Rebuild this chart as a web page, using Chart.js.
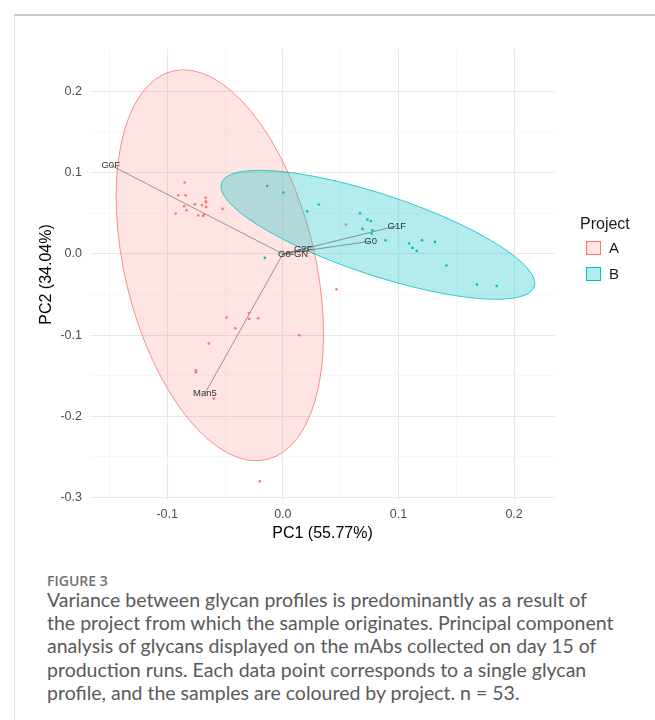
<!DOCTYPE html>
<html>
<head>
<meta charset="utf-8">
<script src="https://cdn.jsdelivr.net/npm/chart.js@4.4.1/dist/chart.umd.min.js"></script>
<style>
  body {
    margin: 0;
    width: 655px;
    height: 720px;
    position: relative;
    overflow: hidden;
    background: #fff;
    font-family: "Liberation Sans", Arial, sans-serif;
  }
  .frame {
    position: absolute;
    left: 14px;
    top: 14px;
    width: 660px;
    height: 720px;
    border-top: 2px solid #c9c9c9;
    border-left: 1px solid #dedede;
  }
  #pca {
    position: absolute;
    left: 0;
    top: 0;
  }
  .legend-title {
    position: absolute;
    left: 580px;
    top: 214px;
    font-size: 16px;
    line-height: 20px;
    color: #1a1a1a;
  }
  .legend-key {
    position: absolute;
    left: 586px;
    width: 13px;
    height: 12px;
  }
  .legend-label {
    position: absolute;
    left: 609px;
    font-size: 15px;
    line-height: 18px;
    color: #1a1a1a;
  }
  .fig-label {
    position: absolute;
    left: 47px;
    top: 572px;
    font-family: "Open Sans", sans-serif;
    font-size: 14px;
    line-height: 18px;
    font-weight: 600;
    color: #707070;
  }
  .caption {
    position: absolute;
    left: 47px;
    top: 588px;
    font-family: Lato, "Open Sans", sans-serif;
    font-size: 19.5px;
    line-height: 23.2px;
    color: #5a5a5a;
    white-space: nowrap;
  }
</style>
</head>
<body>
<div class="frame"></div>
<canvas id="pca" width="655" height="560"></canvas>
<div id="legend"></div>
<div class="fig-label">FIGURE 3</div>
<div class="caption">Variance between glycan profiles is predominantly as a result of<br>the project from which the sample originates. Principal component<br>analysis of glycans displayed on the mAbs collected on day 15 of<br>production runs. Each data point corresponds to a single glycan<br>profile, and the samples are coloured by project. n = 53.</div>

<script>
// scores
const projectA_pc1 = [-0.0850, -0.0905, -0.0841, -0.0668, -0.0666, -0.0663, -0.0853, -0.0761, -0.0700, -0.0663,
  -0.0832, -0.0521, -0.0927, -0.0732, -0.0689, -0.0680, 0.0545, 0.0464, -0.0487, -0.0294,
  -0.0291, -0.0213, -0.0412, 0.0141, -0.0640, -0.0752, -0.0752, -0.0596, -0.0199];
const projectA_pc2 = [0.0879, 0.0723, 0.0723, 0.0690, 0.0649, 0.0637, 0.0587, 0.0612, 0.0603, 0.0579,
  0.0538, 0.0554, 0.0498, 0.0473, 0.0468, 0.0489, 0.0362, -0.0435, -0.0783, -0.0727,
  -0.0800, -0.0792, -0.0915, -0.1001, -0.1104, -0.1432, -0.1457, -0.1781, -0.2799];

const projectB_pc1 = [-0.0136, 0.0003, 0.0311, 0.0210, 0.0668, 0.0732, 0.0761, 0.0689, 0.0775, 0.0769,
  0.0888, 0.1092, 0.1121, 0.1158, 0.1204, 0.1316, -0.0156, 0.1415, 0.1679, 0.1850];
const projectB_pc2 = [0.0837, 0.0756, 0.0608, 0.0526, 0.0501, 0.0424, 0.0406, 0.0308, 0.0292, 0.0251,
  0.0169, 0.0128, 0.0074, 0.0037, 0.0169, 0.0148, -0.0049, -0.0143, -0.0377, -0.0394];

// loadings (arrow tips)
const loadingNames = ["G0F", "Man5", "G1F", "G0", "G2F", "G0-GN"];
const loadingPC1 = [-0.1489, -0.0674, 0.0985, 0.0760, 0.0176, 0.0089];
const loadingPC2 = [0.1092, -0.1719, 0.0345, 0.0156, 0.0054, -0.0007];

// normal ellipses: centre and two conjugate semi-axes, in PC units
const projects = ["A", "B"];
const ellipseCentre = [[-0.0545, -0.0140], [0.0822, 0.0235]];
const ellipseAxisU = [[0.0410, -0.2391], [0.1353, -0.0638]];
const ellipseAxisV = [[-0.0798, -0.0279], [-0.0109, -0.0472]];

// axes
const xMajorTicks = [-0.1, 0.0, 0.1, 0.2];
const xMinorTicks = [-0.15, -0.05, 0.05, 0.15];
const yMajorTicks = [-0.3, -0.2, -0.1, 0.0, 0.1, 0.2];
const yMinorTicks = [-0.25, -0.15, -0.05, 0.05, 0.15];
const xLimits = [-0.1668, 0.2354];
const yLimits = [-0.303, 0.2523];

const colours = ["#F8766D", "#00BFC4"];
const fills = ["rgba(248,118,109,0.2)", "rgba(0,191,196,0.3)"];

function zipPoints(xs, ys) {
  return xs.map((x, i) => ({ x: x, y: ys[i] }));
}

function setTicks(major, minor) {
  return (scale) => {
    scale.ticks = major.concat(minor).sort((a, b) => a - b).map((v) => ({ value: v }));
  };
}

const gridColour = (major) => (c) => (c.tick && major.includes(c.tick.value) ? "#e8e8e8" : "#f3f3f3");
const gridWidth = (major) => (c) => (c.tick && major.includes(c.tick.value) ? 1.1 : 0.7);

// ellipses go under the points
const ellipsePlugin = {
  id: "ellipses",
  beforeDatasetsDraw(chart) {
    const { ctx, chartArea, scales } = chart;
    const sx = scales.x, sy = scales.y;
    ctx.save();
    ctx.beginPath();
    ctx.rect(chartArea.left, chartArea.top, chartArea.right - chartArea.left, chartArea.bottom - chartArea.top);
    ctx.clip();
    projects.forEach((p, i) => {
      const [cx, cy] = ellipseCentre[i];
      const px = sx.getPixelForValue(cx), py = sy.getPixelForValue(cy);
      const ux = sx.getPixelForValue(cx + ellipseAxisU[i][0]) - px;
      const uy = sy.getPixelForValue(cy + ellipseAxisU[i][1]) - py;
      const vx = sx.getPixelForValue(cx + ellipseAxisV[i][0]) - px;
      const vy = sy.getPixelForValue(cy + ellipseAxisV[i][1]) - py;
      ctx.save();
      ctx.beginPath();
      ctx.transform(ux, uy, vx, vy, px, py);
      ctx.arc(0, 0, 1, 0, Math.PI * 2);
      ctx.restore();
      ctx.fillStyle = fills[i];
      ctx.fill();
      ctx.lineWidth = 0.8;
      ctx.strokeStyle = colours[i];
      ctx.stroke();
    });
    ctx.restore();
  },
};

const loadingLabels = {
  id: "loadingLabels",
  afterDatasetsDraw(chart) {
    const { ctx, scales } = chart;
    ctx.save();
    ctx.font = '9.5px "Liberation Sans", Arial, sans-serif';
    ctx.fillStyle = "#333";
    ctx.textAlign = "center";
    ctx.textBaseline = "middle";
    loadingNames.forEach((name, i) => {
      ctx.fillText(name, scales.x.getPixelForValue(loadingPC1[i]), scales.y.getPixelForValue(loadingPC2[i]));
    });
    ctx.restore();
  },
};

const loadingSets = loadingNames.map((name, i) => ({
  type: "line",
  label: name,
  data: [{ x: 0, y: 0 }, { x: loadingPC1[i], y: loadingPC2[i] }],
  borderColor: "rgba(70,70,70,0.75)",
  borderWidth: 0.7,
  pointRadius: 0,
  fill: false,
}));

new Chart(document.getElementById("pca"), {
  type: "scatter",
  data: {
    datasets: [
      {
        label: "A",
        data: zipPoints(projectA_pc1, projectA_pc2),
        backgroundColor: colours[0],
        borderWidth: 0,
        pointRadius: 1.3,
      },
      {
        label: "B",
        data: zipPoints(projectB_pc1, projectB_pc2),
        backgroundColor: colours[1],
        borderWidth: 0,
        pointRadius: 1.3,
      },
      ...loadingSets,
    ],
  },
  options: {
    responsive: false,
    animation: false,
    devicePixelRatio: 1,
    layout: { padding: { left: 0, right: 100, top: 49, bottom: 0 } },
    plugins: {
      legend: { display: false },
      tooltip: { enabled: false },
    },
    scales: {
      x: {
        type: "linear",
        min: xLimits[0],
        max: xLimits[1],
        afterBuildTicks: setTicks(xMajorTicks, xMinorTicks),
        afterFit: (s) => { s.height = 60; },
        border: { display: false },
        grid: { color: gridColour(xMajorTicks), lineWidth: gridWidth(xMajorTicks), drawTicks: false },
        ticks: {
          autoSkip: false,
          maxRotation: 0,
          padding: 7,
          color: "#4d4d4d",
          font: { family: '"Liberation Sans", Arial, sans-serif', size: 12.5 },
          callback: (v) => (xMajorTicks.includes(v) ? v.toFixed(1) : ""),
        },
        title: {
          display: true,
          text: "PC1 (55.77%)",
          color: "#000",
          font: { family: '"Liberation Sans", Arial, sans-serif', size: 16 },
          padding: { top: 0, bottom: 17 },
        },
      },
      y: {
        type: "linear",
        min: yLimits[0],
        max: yLimits[1],
        afterBuildTicks: setTicks(yMajorTicks, yMinorTicks),
        afterFit: (s) => { s.width = 90; },
        border: { display: false },
        grid: { color: gridColour(yMajorTicks), lineWidth: gridWidth(yMajorTicks), drawTicks: false },
        ticks: {
          autoSkip: false,
          padding: 8,
          color: "#4d4d4d",
          font: { family: '"Liberation Sans", Arial, sans-serif', size: 12.5 },
          callback: (v) => (yMajorTicks.includes(v) ? v.toFixed(1) : ""),
        },
        title: {
          display: true,
          text: "PC2 (34.04%)",
          color: "#000",
          font: { family: '"Liberation Sans", Arial, sans-serif', size: 16 },
          padding: { top: 37, bottom: 0 },
        },
      },
    },
  },
  plugins: [ellipsePlugin, loadingLabels],
});

// legend
const legend = document.getElementById("legend");
legend.innerHTML = '<div class="legend-title">Project</div>' +
  projects.map((p, i) => {
    const top = 241 + i * 26;
    return '<div class="legend-key" style="top:' + top + 'px;background:' + fills[i] +
      ';border:1px solid ' + colours[i] + '"></div>' +
      '<div class="legend-label" style="top:' + (top - 2) + 'px">' + p + '</div>';
  }).join("");
</script>
</body>
</html>
